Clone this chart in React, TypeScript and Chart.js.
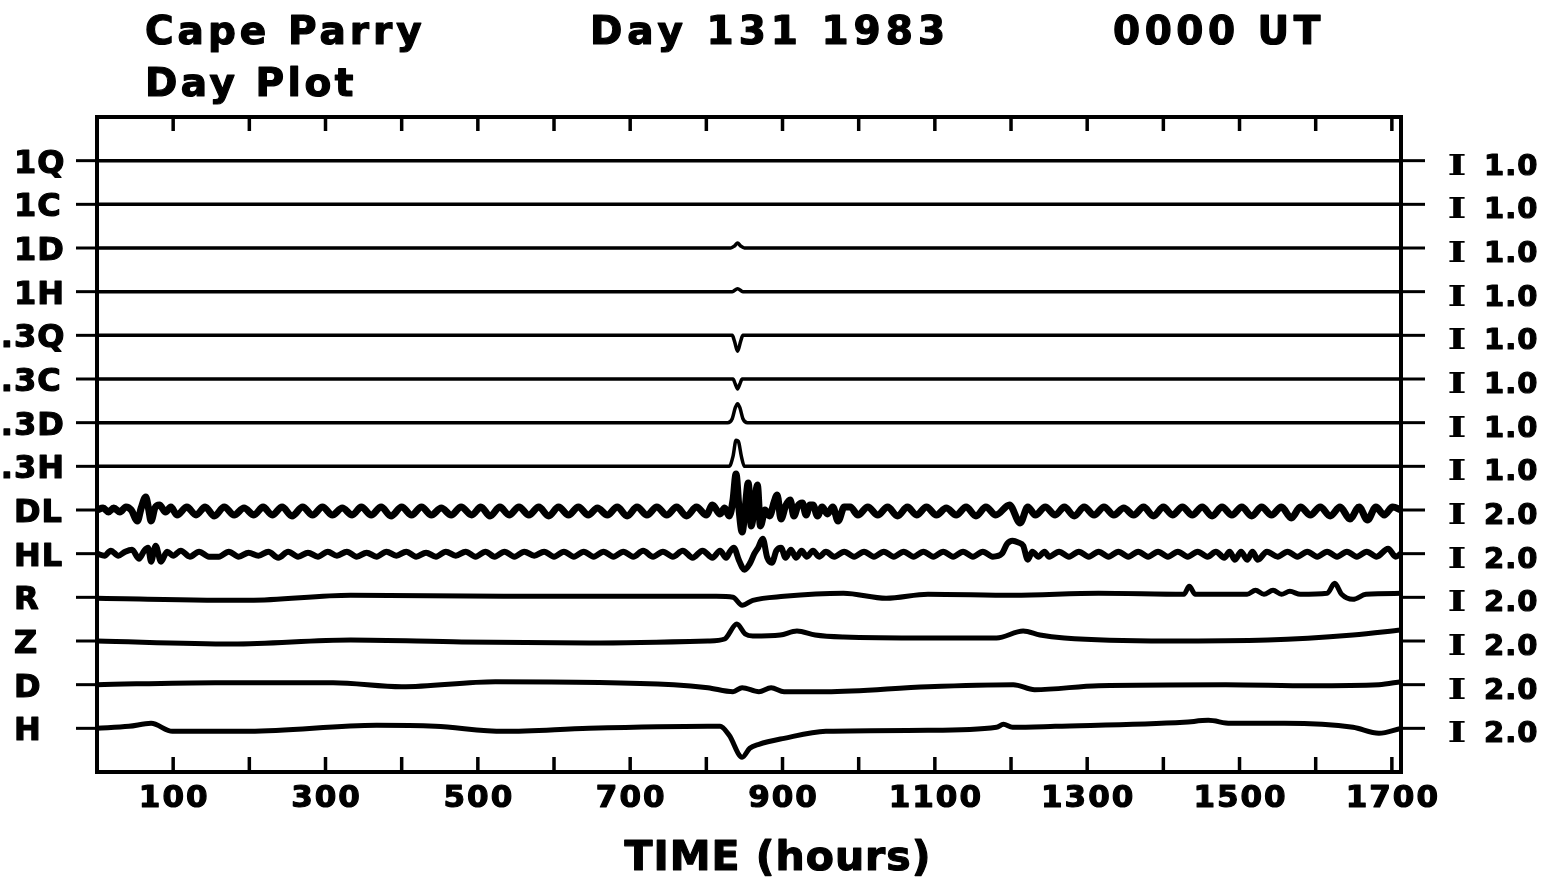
import React, { useEffect, useRef } from "react";
import { Chart, registerables } from "chart.js";

Chart.register(...registerables);

// ---- text / labels ----
const TITLE_LEFT = ["Cape Parry", "Day Plot"];
const TITLE_MID = "Day 131 1983";
const TITLE_RIGHT = "0000 UT";
const X_TITLE = "TIME (hours)";
const ROW_LABELS = ["1Q", "1C", "1D", "1H", ".3Q", ".3C", ".3D", ".3H", "DL", "HL", "R", "Z", "D", "H"];
const SCALE_LABELS = ["1.0", "1.0", "1.0", "1.0", "1.0", "1.0", "1.0", "1.0", "2.0", "2.0", "2.0", "2.0", "2.0", "2.0"];
const X_MINOR_TICKS = [100, 200, 300, 400, 500, 600, 700, 800, 900, 1000, 1100, 1200, 1300, 1400, 1500, 1600, 1700];
const X_TICK_LABELS = [100, 300, 500, 700, 900, 1100, 1300, 1500, 1700];
const X_MIN = 0;
const X_MAX = 1712;

// ---- traces: [time (hours), deflection] ----
const T_1Q = [[0, 0], [1712, 0]];
const T_1C = [[0, 0], [1712, 0]];
const T_1D = [[0, 0], [832, 0], [837, 2], [841, 5], [845, 2], [850, 0], [1712, 0]];
const T_1H = [[0, 0], [834, 0], [841, 3], [848, 0], [1712, 0]];
const T_3Q = [[0, 0], [834, 0], [837, -6], [841, -16], [845, -6], [848, 0], [1712, 0]];
const T_3C = [[0, 0], [835, 0], [838, -5], [841, -10], [844, -5], [847, 0], [1712, 0]];
const T_3D = [[0, 0], [828, 0], [834, 4], [838, 15], [841, 19], [844, 15], [848, 4], [854, 0], [1712, 0]];
const T_3H = [[0, 0], [830, 0], [835, 10], [839, 26], [842, 25], [846, 10], [850, 0], [1712, 0]];
const T_DL = [
  [0, 0], [8, 2], [15, -2], [22, 2], [30, -2], [38, 3], [45, 0], [53, -11], [58, 2], [64, 13], [68, 0], [71, -11], [76, 2], [82, 5], [90, -2], [97, 3],
  [105, -5], [118, 3], [130, -5], [142, 3], [154, -6], [167, 3], [180, -5], [193, 2], [206, -5], [218, 3], [230, -5], [243, 3], [256, -6], [270, 3],
  [283, -5], [296, 3], [309, -5], [322, 2], [335, -5], [347, 3], [360, -5], [373, 3], [386, -6], [400, 3], [413, -5], [426, 3], [439, -5], [452, 2],
  [465, -5], [478, 3], [492, -5], [504, 3], [516, -6], [529, 3], [541, -5], [554, 3], [567, -5], [580, 3], [593, -6], [606, 3], [619, -5], [632, 3],
  [645, -5], [657, 2], [670, -5], [683, 3], [696, -6], [709, 3], [722, -5], [735, 3], [748, -5], [761, 3], [774, -6], [787, 3], [800, -5], [808, 5], [818, -4],
  [824, 2], [830, -6], [835, 10], [839, 36], [843, 0], [847, -22], [851, 2], [855, 27], [859, -16], [863, 4], [867, 25], [871, -16], [877, 0], [883, -6],
  [889, 8], [893, 15], [898, -9], [904, 4], [910, 10], [915, -6], [920, 4], [926, 7], [931, -5], [936, 5], [940, 5], [946, -6], [952, 3], [959, -4],
  [966, 3], [973, -11], [981, 3], [989, 3],
  [999, -5], [1012, 3], [1025, -5], [1038, 3], [1051, -6], [1064, 3], [1076, -5], [1089, 3], [1102, -5], [1115, 2], [1128, -5], [1141, 3], [1154, -6],
  [1167, 3], [1180, -5], [1198, 5], [1212, -13], [1222, 3], [1232, -5], [1245, 3], [1258, -5], [1270, 3], [1283, -6], [1296, 3], [1309, -5], [1322, 3],
  [1335, -5], [1348, 2], [1361, -5], [1374, 3], [1387, -6], [1400, 3], [1412, -5], [1425, 3], [1438, -5], [1451, 3], [1464, -6], [1477, 3], [1490, -5],
  [1503, 3], [1516, -6], [1529, 3], [1542, -5], [1555, 3], [1568, -8], [1580, 3], [1593, -5], [1606, 3], [1619, -6], [1632, 3], [1645, -9], [1657, 3],
  [1668, -10], [1679, 3], [1690, -5], [1701, 3], [1712, 0],
];
const T_HL = [
  [0, 0], [10, -2], [18, 3], [28, -2], [37, 2], [46, 4], [55, -5], [62, 3], [67, 6], [71, -8], [77, 8], [84, -8], [92, 2], [100, -2], [110, 3], [122, -3],
  [134, 2], [147, -3], [160, -3], [173, 2], [186, -3], [199, 1], [212, -2], [225, 2], [238, -4], [251, 2], [264, -3], [277, 1], [290, -3], [303, 2],
  [315, -2], [328, 2], [341, -3], [354, 1], [367, -3], [380, 2], [393, -2], [406, 2], [419, -3], [432, 1], [445, -3], [458, 2], [471, -2], [484, 2],
  [497, -3], [510, 2], [522, -3], [535, 2], [548, -3], [561, 2], [574, -2], [587, 2], [600, -3], [613, 2], [626, -3], [639, 2], [652, -3], [665, 2],
  [678, -3], [691, 2], [704, -3], [717, 3], [730, -3], [743, 2], [756, -3], [769, 3], [782, -4], [795, 3], [808, -4], [818, 3], [826, -4],
  [831, 2], [836, 6], [843, -7], [850, -16], [857, -10], [863, 0], [868, 6], [874, 15], [880, -4], [886, -9], [892, 3], [898, 6], [904, -4], [911, 4],
  [918, -4], [925, 3], [932, -3], [940, 3], [948, -3], [957, 2],
  [968, -3], [981, 2], [994, -3], [1007, 2], [1020, -3], [1033, 2], [1046, -3], [1059, 2], [1072, -3], [1085, 2], [1098, -3], [1111, 2], [1124, -3],
  [1137, 2], [1150, -3], [1163, 2], [1176, -3], [1188, 0], [1195, 10], [1202, 13], [1210, 11], [1216, 8], [1222, -6], [1228, 2], [1236, -3], [1244, 2],
  [1250, -3], [1263, 2], [1276, -3], [1289, 2], [1302, -3], [1315, 2], [1328, -3], [1341, 2], [1354, -3], [1367, 2], [1380, -3], [1393, 2], [1406, -3],
  [1419, 2], [1432, -3], [1445, 2], [1458, -3], [1469, 2], [1480, -4], [1487, 2], [1494, -6], [1502, 2], [1510, -6], [1517, 2], [1524, -6], [1536, 2],
  [1550, -3], [1563, 2], [1576, -3], [1589, 2], [1602, -3], [1615, 2], [1628, -3], [1641, 2], [1654, -3], [1667, 2], [1680, -3], [1695, 5], [1705, -3], [1712, 0],
];
const T_R = [
  [0, -1], [200, -3], [333, 2], [534, 1], [700, 1], [813, 1], [835, 0], [847, -8], [861, -3], [902, 1], [980, 4], [1036, -1], [1091, 3], [1203, 2],
  [1315, 4], [1427, 3], [1434, 11], [1442, 3], [1510, 3], [1521, 7], [1532, 3], [1544, 7], [1555, 3], [1566, 6], [1580, 3], [1615, 4], [1625, 14],
  [1634, 3], [1649, -2], [1666, 3], [1712, 4],
];
const T_Z = [
  [0, 0], [178, -3], [333, 1], [479, -1], [646, -2], [802, 0], [824, 2], [840, 17], [851, 7], [861, 5], [897, 6], [919, 10], [943, 6], [980, 4],
  [1091, 3], [1181, 3], [1216, 10], [1238, 6], [1270, 3], [1404, 0], [1537, 1], [1649, 6], [1712, 11],
];
const T_D = [
  [0, 0], [155, 2], [310, 2], [400, -2], [523, 3], [757, 0], [802, -3], [835, -7], [847, -3], [869, -7], [885, -3], [902, -7], [957, -7], [1091, -2],
  [1203, 0], [1231, -5], [1315, -1], [1482, 0], [1593, -1], [1683, 0], [1712, 3],
];
const T_H = [
  [0, 0], [42, 2], [71, 5], [99, -3], [200, -3], [367, 3], [444, 2], [534, -3], [646, 0], [802, 2], [818, 2], [830, -7], [847, -29], [857, -20],
  [869, -16], [902, -10], [957, -3], [1091, -2], [1181, 1], [1190, 4], [1202, 1], [1258, 2], [1427, 6], [1459, 8], [1488, 5], [1559, 5], [1649, 1],
  [1683, -5], [1712, 0],
];

const SERIES = [T_1Q, T_1C, T_1D, T_1H, T_3Q, T_3C, T_3D, T_3H, T_DL, T_HL, T_R, T_Z, T_D, T_H];
const LINE_WIDTHS = [3.5, 3.5, 3.5, 3.5, 3.5, 3.5, 3.5, 3.5, 7, 6, 5, 5, 5, 5];
const DEFLECTION_SCALE = 1 / 43.7;
const ROW_COUNT = 14;

const FONT = "'DejaVu Sans', 'Liberation Sans', sans-serif";

export default function App() {
  const ref = useRef<HTMLCanvasElement>(null);

  useEffect(() => {
    const canvas = ref.current;
    if (!canvas) return;

    const datasets = SERIES.map((s, i) => ({
      data: s.map(([t, v]) => ({ x: t, y: ROW_COUNT - i + v * DEFLECTION_SCALE })),
      borderColor: "#000",
      borderWidth: LINE_WIDTHS[i],
      pointRadius: 0,
      fill: false,
      cubicInterpolationMode: "monotone" as const,
      borderCapStyle: "round" as const,
      borderJoinStyle: "round" as const,
    }));

    const framePlugin = {
      id: "frame",
      afterDraw(chart: any) {
        const { ctx, chartArea: a } = chart;
        const xs = chart.scales.x;
        const ys = chart.scales.y;
        ctx.save();
        ctx.strokeStyle = "#000";
        ctx.fillStyle = "#000";
        const line = (x1: number, y1: number, x2: number, y2: number, w: number) => {
          ctx.lineWidth = w;
          ctx.beginPath();
          ctx.moveTo(x1, y1);
          ctx.lineTo(x2, y2);
          ctx.stroke();
        };
        const text = (s: string, x: number, y: number, font: string, align: CanvasTextAlign, spacing: number, heavy = 1.2) => {
          ctx.font = font;
          (ctx as any).letterSpacing = spacing + "px";
          ctx.textAlign = align;
          ctx.textBaseline = "alphabetic";
          ctx.fillText(s, x, y);
          if (heavy > 0) {
            ctx.lineWidth = heavy;
            ctx.lineJoin = "round";
            ctx.strokeText(s, x, y);
          }
        };

        // frame
        ctx.lineWidth = 4;
        ctx.lineCap = "square";
        ctx.strokeRect(a.left, a.top, a.right - a.left, a.bottom - a.top);
        ctx.lineCap = "butt";

        // inward ticks top and bottom
        X_MINOR_TICKS.forEach((v) => {
          const px = xs.getPixelForValue(v);
          line(px, a.top, px, a.top + 14, 3.5);
          line(px, a.bottom, px, a.bottom - 15, 3.5);
        });

        // row ticks and labels
        const rowFont = `bold 32px ${FONT}`;
        const scaleFont = `bold 29px ${FONT}`;
        const barFont = `bold 28px 'DejaVu Serif', 'Liberation Serif', serif`;
        ROW_LABELS.forEach((lab, i) => {
          const py = ys.getPixelForValue(ROW_COUNT - i);
          line(a.left - 21, py, a.left, py, 3);
          line(a.right, py, a.right + 24, py, 3);
          ctx.font = rowFont;
          (ctx as any).letterSpacing = "1px";
          let lx = 14;
          if (lab.startsWith(".")) lx -= ctx.measureText(".").width;
          text(lab, lx, py + 12, rowFont, "left", 1);
          ctx.save();
          ctx.translate(1457, py + 14);
          ctx.scale(1.45, 1.0);
          text("I", 0, 0, barFont, "center", 0, 0);
          ctx.restore();
          text(SCALE_LABELS[i], 1484, py + 14, scaleFont, "left", 1);
        });

        // x tick labels
        const tickFont = `bold 31px ${FONT}`;
        X_TICK_LABELS.forEach((v) => {
          const px = xs.getPixelForValue(v);
          text(String(v), px + 1, 807, tickFont, "center", 2);
        });

        // axis title
        text(X_TITLE, 778, 870, `bold 41px ${FONT}`, "center", 1);

        // titles
        const titleFont = `bold 39px ${FONT}`;
        text(TITLE_LEFT[0], 145, 44, titleFont, "left", 4);
        text(TITLE_LEFT[1], 145, 96, titleFont, "left", 3.5);
        text(TITLE_MID, 590, 44, titleFont, "left", 5);
        text(TITLE_RIGHT, 1113, 44, titleFont, "left", 4.5);

        ctx.restore();
      },
    };

    const chart = new Chart(canvas, {
      type: "line",
      data: { datasets },
      options: {
        animation: false,
        responsive: false,
        devicePixelRatio: 1,
        parsing: false,
        layout: { padding: { left: 97, right: 155, top: 117, bottom: 113 } },
        plugins: { legend: { display: false }, tooltip: { enabled: false } },
        scales: {
          x: { type: "linear", min: X_MIN, max: X_MAX, display: false },
          y: { type: "linear", min: 0, max: 15, display: false },
        },
      },
      plugins: [framePlugin],
    } as any);

    return () => chart.destroy();
  }, []);

  return (
    <div style={{ position: "fixed", left: 0, top: 0, width: 1556, height: 885, background: "#fff" }}>
      <canvas ref={ref} width={1556} height={885} style={{ display: "block" }} />
    </div>
  );
}
